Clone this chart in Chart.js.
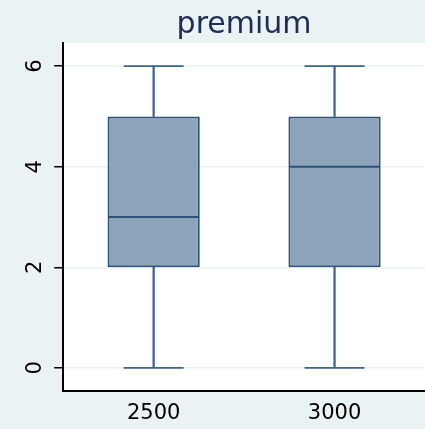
<!DOCTYPE html>
<html>
<head>
<meta charset="utf-8">
<script src="https://cdn.jsdelivr.net/npm/chart.js@4/dist/chart.umd.min.js"></script>
<style>
  html, body { margin: 0; padding: 0; background: #EAF2F3; }
  #wrap { width: 425px; height: 429px; }
</style>
</head>
<body>
<div id="wrap"><canvas id="c" width="425" height="429"></canvas></div>
<script>
// Box summaries for premium by group
const categories = ['2500', '3000'];
const minVals    = [0, 0];
const q1Vals     = [2, 2];
const medianVals = [3, 4];
const q3Vals     = [5, 5];
const maxVals    = [6, 6];
const yTicks     = [0, 2, 4, 6];

const FONT = "'DejaVu Sans', 'Liberation Sans', Arial, sans-serif";
const BOX_FILL = '#8CA3B9';
const BOX_EDGE = '#2B5179';
const WHISKER = '#3A6590';

// White plot region on the light graph region
const plotBackground = {
  id: 'plotBackground',
  beforeDraw(chart) {
    const { ctx, chartArea: a } = chart;
    ctx.save();
    ctx.fillStyle = '#FFFFFF';
    ctx.fillRect(a.left, a.top, a.right - a.left, a.bottom - a.top);
    ctx.restore();
  }
};

// Labels sit well inside the plot, so no extra edge padding is needed
function noEdgePadding(scale) {
  scale.paddingLeft = 0;
  scale.paddingRight = 0;
  scale.paddingTop = 0;
  scale.paddingBottom = 0;
}

new Chart(document.getElementById('c'), {
  type: 'bar',
  data: {
    labels: categories,
    datasets: [
      {
        label: 'box',
        data: categories.map((_, i) => [q1Vals[i], q3Vals[i]]),
        backgroundColor: BOX_FILL,
        borderColor: BOX_EDGE,
        borderWidth: 2,
        borderSkipped: false,
        barPercentage: 0.51,
        categoryPercentage: 1,
        grouped: false,
        order: 2
      },
      {
        label: 'lower whisker',
        data: categories.map((_, i) => [minVals[i], q1Vals[i]]),
        backgroundColor: WHISKER,
        borderWidth: 0,
        barThickness: 1.6,
        grouped: false,
        order: 3
      },
      {
        label: 'upper whisker',
        data: categories.map((_, i) => [q3Vals[i], maxVals[i]]),
        backgroundColor: WHISKER,
        borderWidth: 0,
        barThickness: 1.6,
        grouped: false,
        order: 3
      },
      {
        type: 'line',
        label: 'lower cap',
        data: minVals,
        showLine: false,
        pointStyle: 'line',
        pointRadius: 30,
        pointBorderColor: WHISKER,
        pointBorderWidth: 1.6,
        order: 1
      },
      {
        type: 'line',
        label: 'upper cap',
        data: maxVals,
        showLine: false,
        pointStyle: 'line',
        pointRadius: 30,
        pointBorderColor: WHISKER,
        pointBorderWidth: 1.6,
        order: 1
      },
      {
        type: 'line',
        label: 'median',
        data: medianVals,
        showLine: false,
        pointStyle: 'line',
        pointRadius: 45,
        pointBorderColor: BOX_EDGE,
        pointBorderWidth: 2,
        order: 0
      }
    ]
  },
  options: {
    responsive: false,
    animation: false,
    events: [],
    layout: { autoPadding: false, padding: { left: 5, right: 0, top: 0, bottom: 3 } },
    plugins: {
      legend: { display: false },
      tooltip: { enabled: false },
      title: {
        display: true,
        text: 'premium',
        fullSize: false,
        color: '#1E2D55',
        font: { family: FONT, size: 30, weight: 'normal' },
        padding: { top: 7, bottom: 0 }
      }
    },
    scales: {
      x: {
        offset: true,
        afterFit(scale) {
          noEdgePadding(scale);
          scale.height = 35;
        },
        grid: { display: false, drawTicks: false },
        border: { display: true, color: '#000000', width: 2 },
        ticks: {
          color: '#000000',
          padding: 10,
          font: { family: FONT, size: 21 }
        }
      },
      y: {
        min: -0.46,
        max: 6.46,
        afterFit: noEdgePadding,
        afterBuildTicks(scale) {
          scale.ticks = yTicks.map(v => ({ value: v }));
        },
        grid: {
          color: '#EAF2F3',
          lineWidth: 1.5,
          drawTicks: true,
          tickLength: 9,
          tickColor: '#000000',
          tickWidth: 1.5
        },
        border: { display: true, color: '#000000', width: 2 },
        ticks: {
          color: '#000000',
          minRotation: 90,
          maxRotation: 90,
          crossAlign: 'center',
          padding: 12,
          font: { family: FONT, size: 21 }
        }
      }
    }
  },
  plugins: [plotBackground]
});
</script>
</body>
</html>
